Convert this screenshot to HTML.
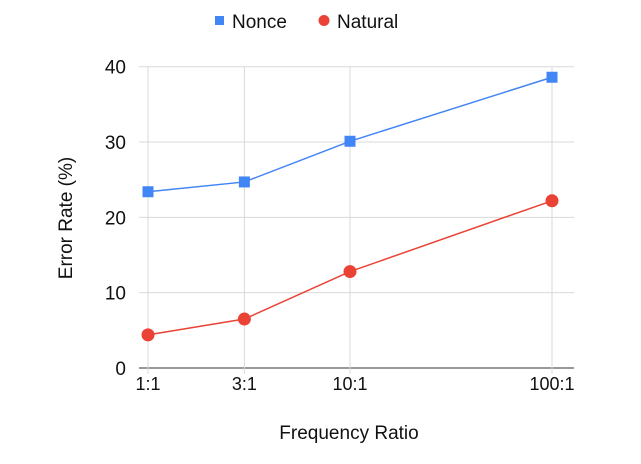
<!DOCTYPE html>
<html><head><meta charset="utf-8"><style>
body{margin:0;background:#fff;width:641px;height:459px;overflow:hidden;font-family:"Liberation Sans",Arial,sans-serif}
</style></head><body>
<svg id="chart" width="641" height="459" xmlns="http://www.w3.org/2000/svg" font-family="Liberation Sans, Arial, sans-serif">
<g id="legend">
<g><rect x="215" y="16" width="9" height="9" fill="#4285f4"/><text x="232" y="28" font-size="19" fill="#111">Nonce</text></g>
<g><circle cx="324" cy="20.5" r="5.5" fill="#ea4335"/><text x="337" y="28" font-size="19" fill="#111">Natural</text></g>
</g>
<g id="grid"></g><g id="series"></g><g id="labels"></g>
<text transform="translate(72,218) rotate(-90)" text-anchor="middle" font-size="19" fill="#111">Error Rate (%)</text>
<text x="349" y="439" text-anchor="middle" font-size="19" fill="#111">Frequency Ratio</text>
</svg>
<script>
const categories=["1:1","3:1","10:1","100:1"];
const ratios=[1,3,10,100];
const nonce=[23.4,24.7,30.1,38.6];
const natural=[4.4,6.5,12.8,22.2];
const yTicks=[0,10,20,30,40];
const NS="http://www.w3.org/2000/svg";
const x0=148,x1=552,yb=368,yt=66.7,ymax=40;
function xs(r){return x0+(Math.log10(r)/2)*(x1-x0);}
function ys(v){return yb-(v/ymax)*(yb-yt);}
function mk(tag,attrs,parent){const e=document.createElementNS(NS,tag);for(const k in attrs)e.setAttribute(k,attrs[k]);parent.appendChild(e);return e;}
const grid=document.getElementById('grid'),ser=document.getElementById('series'),lab=document.getElementById('labels');
yTicks.forEach(t=>{
 const l=mk('line',{x1:139,x2:574,y1:ys(t),y2:ys(t),stroke:t===0?'#333':'#d9d9d9','stroke-width':1},grid);
 
 
 const tx=mk('text',{x:126,y:ys(t)+7,'text-anchor':'end','font-size':19,fill:'#111'},lab);
 tx.textContent=t;
 
 
});
ratios.forEach((r,i)=>{
 const l=mk('line',{x1:xs(r),x2:xs(r),y1:yt,y2:yb+6,stroke:'#d9d9d9','stroke-width':1},grid);
 
 
 const tx=mk('text',{x:xs(r),y:yb+22,'text-anchor':'middle','font-size':18,fill:'#111'},lab);
 tx.textContent=categories[i];
 
 
});
function series(vals,color,shape,name){
 const pl=mk('polyline',{points:vals.map((v,i)=>xs(ratios[i])+','+ys(v)).join(' '),fill:'none',stroke:color,'stroke-width':1.5},ser);
 
 
 vals.forEach((v,i)=>{
  let m;
  if(shape==='sq')m=mk('rect',{x:xs(ratios[i])-5.5,y:ys(v)-5.5,width:11,height:11,fill:color},ser);
  else m=mk('circle',{cx:xs(ratios[i]),cy:ys(v),r:6.5,fill:color},ser);
  
  
 });
}
series(nonce,'#4285f4','sq','nonce');
series(natural,'#ea4335','c','natural');
</script>
</body></html>
